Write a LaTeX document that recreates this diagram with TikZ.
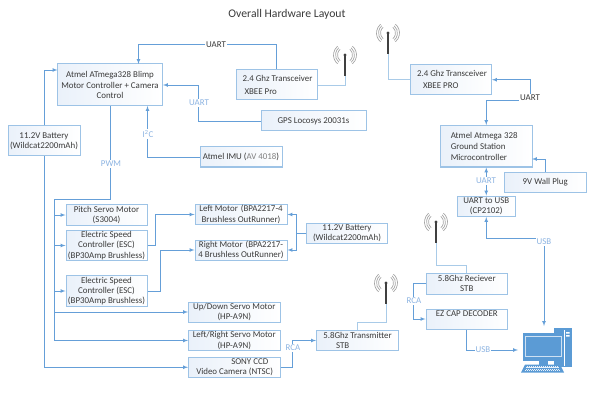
\documentclass[tikz,border=0pt]{standalone}
\usepackage{fontspec}
\setmainfont{Carlito}
\definecolor{wireblue}{HTML}{659FD8}
\definecolor{wirepale}{HTML}{A9CBE8}
\definecolor{boxline}{HTML}{9DC3E6}
\definecolor{boxtint}{HTML}{EAF1FA}
\definecolor{tagblue}{HTML}{8DB4E2}
\definecolor{pcblue}{HTML}{5B9BD5}
\definecolor{inktext}{HTML}{3A3A3A}
\tikzset{
	hwbox/.style = {draw = boxline, line width = 1pt, left color = boxtint, right color = white, text = inktext, inner sep = 0pt, align = center, font = \fontsize{8.9}{10.3}\selectfont},
	wire/.style = {wireblue, line width = 0.7pt, >=latex},
	palewire/.style = {wirepale, line width = 0.8pt},
	tag/.style = {fill = white, text = tagblue, inner sep = 1pt, font = \fontsize{8.9}{10}\selectfont}
}
\newcommand{\hwnode}[6]{\node [hwbox, minimum width = #4pt, minimum height = #5pt] (#1) at (#2,#3) {#6};}
% mast, tip and the radio arcs either side
\newcommand{\antenna}[3]{
	\coordinate (#1) at (#2,#3+21);
	\foreach \r in {7.5,9.5,11.5} {
		\draw [gray!70, line width = 0.7pt] (#2,#3) ++(-50:\r) arc (-50:50:\r);
		\draw [gray!70, line width = 0.7pt] (#2,#3) ++(130:\r) arc (130:230:\r);
	}
	\draw [black!75, line width = 1.1pt] (#2,#3) -- (#1);
	\fill [black!75] (#2,#3) circle (1.7);
}
\begin{document}
\begin{tikzpicture} [x = 1pt, y = -1pt]
	\useasboundingbox (0,0) rectangle (589,417);
	\node [text = inktext, font = \fontsize{11.7}{13}\selectfont] (title) at (287,14) {Overall Hardware Layout};

	% blimp side
	\hwnode{blimp}{110}{85}{105}{42}{Atmel ATmega328 Blimp\\Motor Controller + Camera\\Control}
	\hwnode{battL}{44}{141}{72}{30}{11.2V Battery\\(Wildcat2200mAh)}
	\hwnode{xbeeL}{276.5}{85}{81}{30}{\makebox[68pt][l]{2.4 Ghz Transceiver}\\[2pt]\makebox[68pt][l]{\hspace{2pt}XBEE Pro}}
	\hwnode{gps}{313.5}{121}{105}{20}{GPS Locosys 20031s}
	\hwnode{imu}{241}{157}{82}{20}{Atmel IMU (\textcolor{gray}{AV 4018})}
	\hwnode{pitch}{106.5}{215}{81}{20.5}{Pitch Servo Motor\\(S3004)}
	\hwnode{escA}{106.5}{245.5}{81}{30}{Electric Speed\\Controller (ESC)\\(BP30Amp Brushless)}
	\hwnode{escB}{106.5}{291}{81}{31}{Electric Speed\\Controller (ESC)\\(BP30Amp Brushless)}
	\hwnode{leftM}{241}{214.5}{92}{20}{Left Motor\,\,(BPA2217-4\\Brushless OutRunner)}
	\hwnode{rightM}{241}{250}{92}{20}{Right Motor\,\,(BPA2217-\\4 Brushless OutRunner)}
	\hwnode{battR}{347}{233}{81}{20}{11.2V Battery\\(Wildcat2200mAh)}
	\hwnode{upS}{234.25}{312}{91.5}{20}{Up/Down Servo Motor\\(HP-A9N)}
	\hwnode{lrS}{234.25}{340.5}{91.5}{20.5}{Left/Right Servo Motor\\(HP-A9N)}
	\hwnode{sony}{234.25}{367.25}{91.5}{19.5}{\makebox[76pt][l]{\hspace{35pt}SONY CCD}\\\makebox[76pt][l]{Video Camera (NTSC)}}
	\hwnode{tx}{357.5}{340.5}{82}{20.5}{5.8Ghz Transmitter\\\makebox[67pt][l]{\hspace{12pt}STB}}

	% ground side
	\hwnode{xbeeR}{451}{79.75}{81}{30.5}{\makebox[68pt][l]{2.4 Ghz Transceiver}\\[2pt]\makebox[68pt][l]{\hspace{6pt}XBEE PRO}}
	\hwnode{gs}{486.25}{146.25}{91.5}{41.5}{\makebox[71pt][l]{Atmel Atmega 328}\\[1pt]\makebox[71pt][l]{Ground Station}\\[1pt]\makebox[71pt][l]{Microcontroller}}
	\hwnode{plug}{545.25}{182.25}{81.5}{19.5}{9V Wall Plug}
	\hwnode{usbconv}{486.25}{206.25}{57.5}{20.5}{UART to USB\\(CP2102)}
	\hwnode{rx}{466.75}{283.75}{81.5}{20.5}{5.8Ghz Reciever\\STB}
	\hwnode{ezcap}{466.75}{319}{81.5}{20}{EZ CAP DECODER\\[1pt]~}

	% radios
	\antenna{antL}{345}{55}
	\antenna{antR}{388}{33}
	\antenna{antRx}{436}{222}
	\antenna{antTx}{386}{283}
	\draw [palewire] (xbeeL.east) -| (antL);
	\draw [palewire] (xbeeR.west) -| (antR);
	\draw [palewire] (rx.north) -- ++(0,-7.5) -| (antRx);
	\draw [palewire] (tx.north) -- ++(0,-7.5) -| (antTx);

	% end points that sit off the anchors
	\coordinate (blimpTop) at (138.5,64);
	\coordinate (blimpLeft) at (57.5,70);
	\coordinate (blimpLow) at (147.5,106);
	\coordinate (busTop) at (54,199.5);
	\coordinate (gsSide) at (532,159);
	\coordinate (uartBend) at (530,100);
	\coordinate (pcTop) at (544,326);
	\coordinate (pcLeft) at (518,350);

	\draw [wire, ->] (xbeeL.north) -- ++(0,-25) -| (blimpTop);
	\draw [wire, ->] (gps.west) -- ++(-62.5,0) |- (blimp.east);
	\draw [wire, ->] (imu.west) -| (blimpLow);
	\draw [wire, ->] (battL.north) |- (blimpLeft);
	\draw [wire, ->] (battL.south) |- (sony.west);
	\draw [wire, ->] (blimp.south) |- (busTop) |- (lrS.west);
	\draw [wire, ->] (busTop |- pitch.west) -- (pitch.west);
	\draw [wire, ->] (busTop |- escA.west) -- (escA.west);
	\draw [wire, ->] (busTop |- escB.west) -- (escB.west);
	\draw [wire, ->] (busTop |- upS.west) -- (upS.west);
	\draw [wire, ->] (escA.east) -- ++(8,0) |- (leftM.west);
	\draw [wire, ->] (escB.east) -- ++(13,0) |- (rightM.west);
	\draw [wire, ->] (battR.west) -- ++(-10,0) |- (leftM.east);
	\draw [wire, ->] (battR.west) -- ++(-10,0) |- (rightM.east);
	\draw [wire, ->] (sony.east) -- ++(12,0) |- (tx.west);
	\draw [wire, <->] (xbeeR.east) -| (uartBend) -| (gs.north);
	\draw [wire, ->] (plug.north) |- (gsSide);
	\draw [wire, <->] (gs.south) -- (usbconv.north);
	\draw [wire, <->] (usbconv.south) -- ++(0,21.5) -| (pcTop);
	\draw [wire, ->] (rx.west) -- ++(-12,0) |- (ezcap.west);
	\draw [wire, ->] (ezcap.south) |- (pcLeft);

	% signal names
	\node [tag, text = inktext] (uartA) at (216,45) {UART};
	\node [tag] (uartB) at (199,103) {UART};
	\node [tag] (i2c) at (148,134) {I\textsuperscript{2}C};
	\node [tag] (pwm) at (111,164) {PWM};
	\node [tag] (rcaA) at (293,348) {RCA};
	\node [tag, text = inktext] (uartC) at (530,98) {UART};
	\node [tag] (uartD) at (486,181) {UART};
	\node [tag] (usbA) at (544,242) {USB};
	\node [tag] (rcaB) at (414,301) {RCA};
	\node [tag] (usbB) at (483,350) {USB};

	% computer
	\fill [pcblue] (554,328) rectangle (571.5,367);
	\fill [white] (566,332) rectangle (569.5,333.5) (566,335) rectangle (569.5,336.5);
	\fill [white] (563.5,330) rectangle (565,366);
	\fill [pcblue] (522.5,333) rectangle (563.5,360.5);
	\draw [white!70!pcblue, line width = 0.7pt] (525,336) rectangle (561,356.5);
	\fill [pcblue] (539,360) rectangle (548,365);
	\fill [pcblue] (525,364.5) -- (560,364.5) -- (564,372.5) -- (521,372.5) -- cycle;
	\foreach \i in {0,...,3} {
		\draw [white!85!pcblue, line width = 0.8pt, dash pattern = on 1.2pt off 0.8pt] (527-\i*0.7,366+\i*1.6) -- (558+\i*0.7,366+\i*1.6);
	}
\end{tikzpicture}
\end{document}
